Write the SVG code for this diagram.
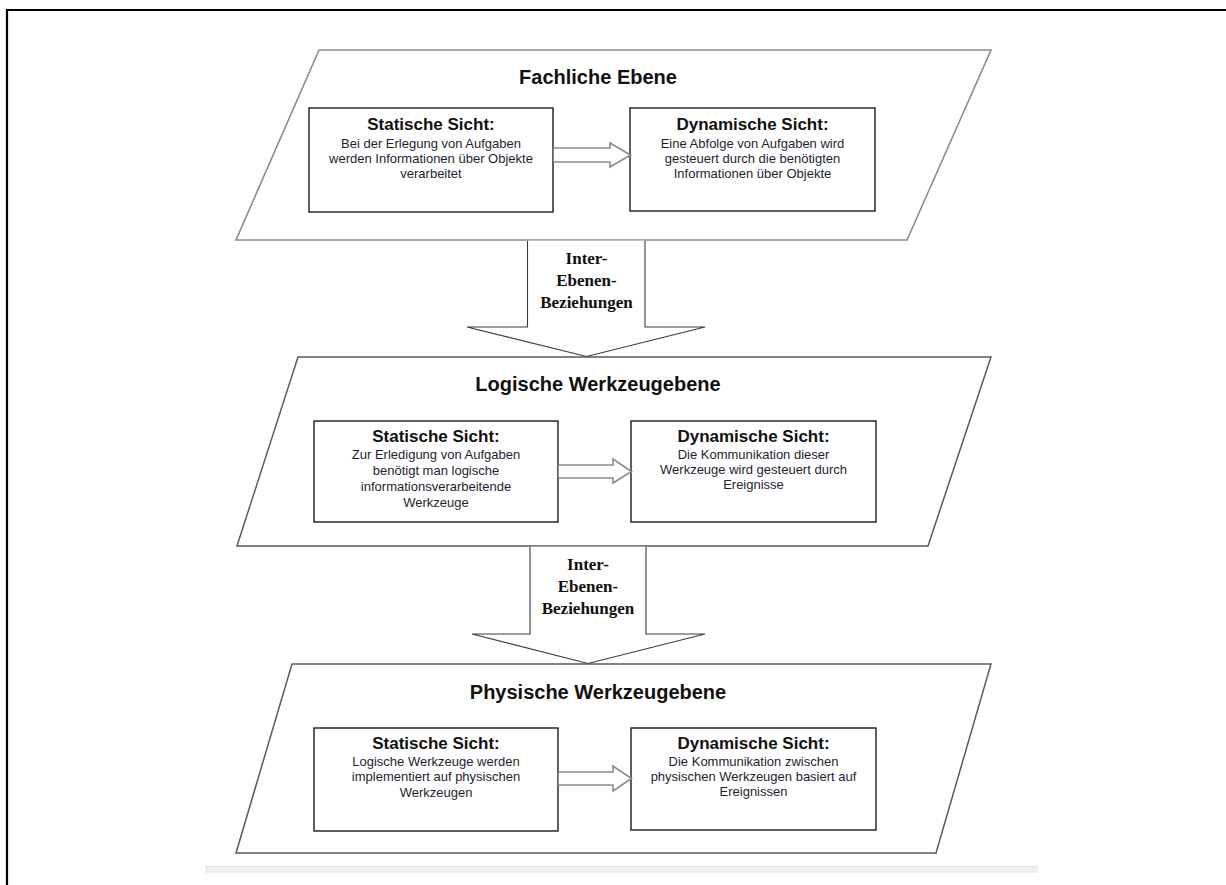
<svg xmlns="http://www.w3.org/2000/svg" width="1226" height="885" viewBox="0 0 1226 885">
  <style>
    .frame { fill: none; stroke: #000; stroke-width: 2.2; }
    .level1 { fill: #fff; stroke: #8c8c8c; stroke-width: 1.6; }
    .level { fill: #fff; stroke: #5a5a5a; stroke-width: 1.5; }
    .view { fill: #fff; stroke: #1a1a1a; stroke-width: 1.4; }
    .flow { fill: #fff; stroke: #8a8a8a; stroke-width: 1.6; stroke-linejoin: miter; }
    .inter { fill: #fff; stroke: #3c3c3c; stroke-width: 1.1; }
    .title { font-family: "Liberation Sans", Arial, sans-serif; font-weight: bold; font-size: 20px; fill: #111; text-anchor: middle; }
    .head { font-family: "Liberation Sans", Arial, sans-serif; font-weight: bold; font-size: 17px; fill: #111; text-anchor: middle; }
    .body { font-family: "Liberation Sans", Arial, sans-serif; font-size: 13px; fill: #1e1e30; text-anchor: middle; }
    .label { font-family: "Liberation Serif", "Times New Roman", serif; font-weight: bold; font-size: 17px; fill: #111; text-anchor: middle; }
  </style>

  <rect width="1226" height="885" fill="#fff"/>

  <!-- page frame: left and top edges only -->
  <path class="frame" d="M7,885 V10 H1226"/>

  <!-- light strip under the figure -->
  <rect x="205" y="866" width="833" height="7" fill="#eeeeee"/>
  <line x1="205" y1="866.5" x2="1038" y2="866.5" stroke="#e2e2e2" stroke-width="1"/>

  <!-- level 1 -->
  <g id="fachliche-ebene">
    <polygon class="level1" points="319,50 991,50 907,240 236,240"/>
    <text class="title" x="598" y="84">Fachliche Ebene</text>
  </g>
  <g id="fachlich-statisch">
    <rect class="view" x="309" y="108" width="244" height="104"/>
    <text class="head" x="431" y="130">Statische Sicht:</text>
    <text class="body" x="431" y="148">Bei der Erlegung von Aufgaben</text>
    <text class="body" x="431" y="163">werden Informationen über Objekte</text>
    <text class="body" x="431" y="178">verarbeitet</text>
  </g>
  <g id="fachlich-dynamisch">
    <rect class="view" x="630" y="108" width="245" height="103"/>
    <text class="head" x="752.5" y="130">Dynamische Sicht:</text>
    <text class="body" x="752.5" y="148">Eine Abfolge von Aufgaben wird</text>
    <text class="body" x="752.5" y="163">gesteuert durch die benötigten</text>
    <text class="body" x="752.5" y="178">Informationen über Objekte</text>
  </g>

  <!-- level 2 -->
  <g id="logische-werkzeugebene">
    <polygon class="level" points="298,357 991,357 928,546 237,546"/>
    <text class="title" x="598" y="391">Logische Werkzeugebene</text>
  </g>
  <g id="logisch-statisch">
    <rect class="view" x="314" y="421" width="244" height="101"/>
    <text class="head" x="436" y="442">Statische Sicht:</text>
    <text class="body" x="436" y="459">Zur Erledigung von Aufgaben</text>
    <text class="body" x="436" y="475">benötigt man logische</text>
    <text class="body" x="436" y="491">informationsverarbeitende</text>
    <text class="body" x="436" y="507">Werkzeuge</text>
  </g>
  <g id="logisch-dynamisch">
    <rect class="view" x="631" y="421" width="245" height="101"/>
    <text class="head" x="753.5" y="442">Dynamische Sicht:</text>
    <text class="body" x="753.5" y="459">Die Kommunikation dieser</text>
    <text class="body" x="753.5" y="474">Werkzeuge wird gesteuert durch</text>
    <text class="body" x="753.5" y="489">Ereignisse</text>
  </g>

  <!-- level 3 -->
  <g id="physische-werkzeugebene">
    <polygon class="level" points="292,664 991,664 936,853 236,853"/>
    <text class="title" x="598" y="699">Physische Werkzeugebene</text>
  </g>
  <g id="physisch-statisch">
    <rect class="view" x="314" y="728" width="244" height="103"/>
    <text class="head" x="436" y="749">Statische Sicht:</text>
    <text class="body" x="436" y="766">Logische Werkzeuge werden</text>
    <text class="body" x="436" y="781">implementiert auf physischen</text>
    <text class="body" x="436" y="797">Werkzeugen</text>
  </g>
  <g id="physisch-dynamisch">
    <rect class="view" x="631" y="728" width="245" height="102"/>
    <text class="head" x="753.5" y="749">Dynamische Sicht:</text>
    <text class="body" x="753.5" y="766">Die Kommunikation zwischen</text>
    <text class="body" x="753.5" y="781">physischen Werkzeugen basiert auf</text>
    <text class="body" x="753.5" y="796">Ereignissen</text>
  </g>

  <!-- connectors -->
  <g id="connectors">
    <!-- hollow arrows from static to dynamic view -->
    <path class="flow" d="M553.7,148 H610 V143 L630.5,155 L610,167 V162 H553.7"/>
    <path class="flow" d="M558.7,465 H613 V459 L631.5,471.5 L613,483 V478 H558.7"/>
    <path class="flow" d="M558.7,772 H613 V766 L631.5,778.5 L613,791 V785 H558.7"/>

    <!-- inter-level arrows -->
    <g id="inter-1">
      <path class="inter" d="M527.5,240.8 V327 H467 L586.5,356.5 L705,327 H645 V240.8"/>
      <text class="label" x="586.5" y="264">Inter-</text>
      <text class="label" x="586.5" y="286">Ebenen-</text>
      <text class="label" x="586.5" y="308">Beziehungen</text>
    </g>
    <g id="inter-2">
      <path class="inter" d="M530,546.8 V634 H472 L588,663.5 L705,634 H646 V546.8"/>
      <text class="label" x="588" y="570">Inter-</text>
      <text class="label" x="588" y="592">Ebenen-</text>
      <text class="label" x="588" y="614">Beziehungen</text>
    </g>
  </g>
</svg>
